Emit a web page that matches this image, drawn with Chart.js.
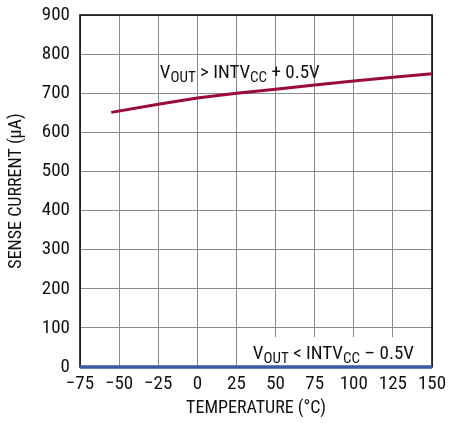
<!DOCTYPE html>
<html><head><meta charset="utf-8">
<script src="https://cdn.jsdelivr.net/npm/chart.js@4"></script>
<style>html,body{margin:0;padding:0;background:#fff}#w{width:449px;height:423px}</style>
</head><body><div id="w"><canvas id="c"></canvas></div>
<script>
const temperatures = [-55, -25, 0, 25, 50, 75, 100, 125, 150];
const senseHigh = [651, 672, 688, 700, 710, 721, 731, 741, 750];
const lowTemps = [-75, 150];
const senseLow = [0, 0];
const xTicks = [-75, -50, -25, 0, 25, 50, 75, 100, 125, 150];
const yTicks = [0, 100, 200, 300, 400, 500, 600, 700, 800, 900];
const labelHigh = {x: -24, y: 739, parts: [["V",0],["OUT",1],[" > INTV",0],["CC",1],[" + 0.5V",0]]};
const labelLow = {x: 35.5, y: 20, parts: [["V",0],["OUT",1],[" < INTV",0],["CC",1],[" \u2013 0.5V",0]]};

const FONT = "'Liberation Sans Narrow','Roboto Condensed','Liberation Sans',Arial,sans-serif";

function drawParts(ctx, x, y, parts) {
  let cx = x;
  for (const [t, sub] of parts) {
    ctx.font = (sub ? "15px " : "19px ") + FONT;
    ctx.fillText(t, cx, y + (sub ? 4 : 0));
    cx += ctx.measureText(t).width;
  }
  return cx;
}
function measureParts(ctx, parts) {
  let w = 0;
  for (const [t, sub] of parts) { ctx.font = (sub ? "15px " : "19px ") + FONT; w += ctx.measureText(t).width; }
  return w;
}

const labelsPlugin = {
  id: 'labels',
  beforeDatasetsDraw(chart) {
    const {ctx, scales: {x, y}} = chart;
    const px = x.getPixelForValue(labelLow.x), py = y.getPixelForValue(labelLow.y);
    const w = measureParts(ctx, labelLow.parts);
    const a = chart.chartArea;
    ctx.save(); ctx.fillStyle = '#fff';
    ctx.fillRect(px - 5, py - 22, Math.min(w + 10, a.right - (px - 5) - 1), a.bottom - (py - 22));
    ctx.strokeStyle = '#000'; ctx.lineWidth = 1.5;
    ctx.strokeRect(a.left, a.top, a.right - a.left, a.bottom - a.top);
    ctx.restore();
  },
  afterDatasetsDraw(chart) {
    const {ctx, scales: {x, y}} = chart;
    ctx.save(); ctx.fillStyle = '#111'; ctx.textBaseline = 'alphabetic';
    for (const l of [labelHigh, labelLow]) {
      drawParts(ctx, x.getPixelForValue(l.x), y.getPixelForValue(l.y), l.parts);
    }
    ctx.restore();
  }
};

new Chart(document.getElementById('c'), {
  type: 'line',
  data: {
    datasets: [
      {data: lowTemps.map((t, i) => ({x: t, y: senseLow[i]})), borderColor: '#3a5aa6', borderWidth: 3.5, pointRadius: 0, order: 2, clip: false},
      {data: temperatures.map((t, i) => ({x: t, y: senseHigh[i]})), borderColor: '#9a0a3a', borderWidth: 3, pointRadius: 0, order: 1}
    ]
  },
  options: {
    responsive: true, maintainAspectRatio: false, animation: false, devicePixelRatio: 1,
    layout: {padding: {top: 15, right: 17, left: 0, bottom: 0}},
    plugins: {legend: {display: false}, tooltip: {enabled: false}},
    scales: {
      x: {
        type: 'linear', min: -75, max: 150,
        afterBuildTicks: s => { s.ticks = xTicks.map(v => ({value: v})); },
        afterFit: s => { s.height = 56; s.paddingLeft = 0; s.paddingRight = 0; },
        grid: {color: '#8a8a8a', lineWidth: 1, drawTicks: false},
        border: {display: false},
        ticks: {padding: 6, color: '#111', font: {family: FONT, size: 19}, maxRotation: 0,
          callback: v => String(v).replace('-', '\u2212')},
        title: {display: true, text: 'TEMPERATURE (\u00B0C)', color: '#111', font: {family: FONT, size: 18}, padding: {top: 2}}
      },
      y: {
        min: 0, max: 900,
        afterBuildTicks: s => { s.ticks = yTicks.map(v => ({value: v})); },
        afterFit: s => { s.width = 80; s.paddingTop = 0; s.paddingBottom = 0; },
        grid: {color: '#8a8a8a', lineWidth: 1, drawTicks: false},
        border: {display: false},
        ticks: {padding: 10, color: '#111', font: {family: FONT, size: 19}},
        title: {display: true, text: 'SENSE CURRENT (\u00B5A)', color: '#111', font: {family: FONT, size: 18}, padding: {top: 6, bottom: 0}}
      }
    }
  },
  plugins: [labelsPlugin]
});
</script></body></html>
